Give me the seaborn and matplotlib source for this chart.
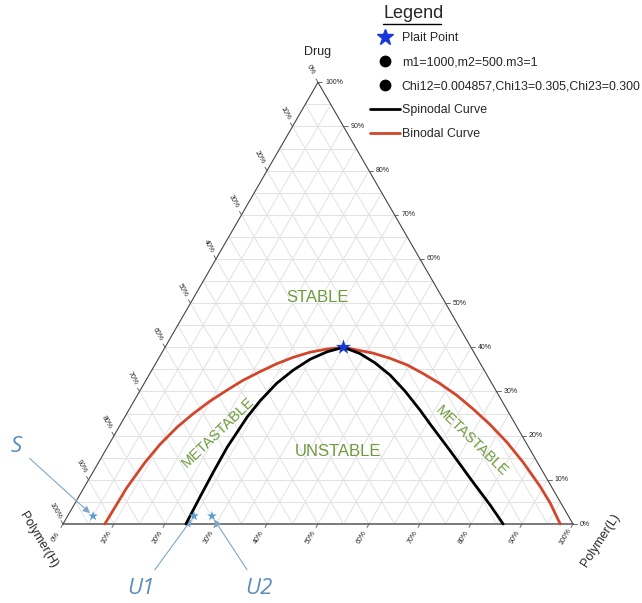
import numpy as np
import pandas as pd
import matplotlib
matplotlib.use("Agg")
import matplotlib.pyplot as plt
from matplotlib.lines import Line2D
import seaborn as sns

sns.set_theme(style="white")
plt.rcParams["font.family"] = ["Liberation Sans", "DejaVu Sans"]

# Compositions in percent: Polymer(L) and Drug; Polymer(H) = 100 - L - D
binodal_L = [8.2, 8.4, 9.1, 10.0, 11.4, 13.0, 14.9, 17.0, 19.0, 21.4, 23.8, 26.2, 29.0, 31.9, 35.0,
             41.4, 45.4, 49.5, 53.5, 58.0, 62.7, 67.3, 72.5, 77.8, 83.2, 89.2, 93.1, 97.5]
binodal_D = [0.0, 8.2, 13.9, 18.0, 21.9, 24.9, 27.8, 30.3, 32.5, 34.5, 36.3, 37.7, 38.9, 39.6, 40.0,
             38.7, 37.5, 36.0, 34.1, 31.8, 29.1, 26.1, 22.5, 18.5, 14.0, 8.6, 4.8, 0.0]

spinodal_L = [24.1, 23.8, 23.6, 23.5, 24.0, 24.7, 26.0, 27.7, 29.8, 32.3, 35.0,
              38.9, 42.9, 47.3, 52.0, 57.1, 60.7, 67.6, 74.6, 81.6, 86.3]
spinodal_D = [0.0, 6.2, 11.7, 17.4, 24.2, 27.9, 31.9, 34.8, 37.3, 39.0, 40.0,
              38.6, 36.5, 33.7, 30.1, 25.8, 22.6, 16.6, 10.4, 4.3, 0.0]

plait_L, plait_D = [35.0], [40.0]

sample_names = ["S", "U1", "U2"]
sample_L = [5.0, 24.8, 28.3]
sample_D = [1.8, 1.8, 1.8]

ticks = list(range(0, 101, 10))
tick_labels = [f"{t}%" for t in ticks]

legend_labels = ["Plait Point", "m1=1000,m2=500.m3=1",
                 "Chi12=0.004857,Chi13=0.305,Chi23=0.300",
                 "Spinodal Curve", "Binodal Curve"]

SQ = np.sqrt(3) / 2


def to_xy(L, D):
    L = np.asarray(L, float) / 100.0
    D = np.asarray(D, float) / 100.0
    return L + D / 2.0, D * SQ


# layout helper: figure pixel -> data units (base of triangle = 510 px)
def px(x, y):
    return (x - 63) / 510.0, (524 - y) / 510.0


W, H = 642, 603
fig = plt.figure(figsize=(W / 100, H / 100), dpi=100)
ax = fig.add_axes([0, 0, 1, 1])
ax.set_xlim(-63 / 510, (W - 63) / 510)
ax.set_ylim((524 - H) / 510, 524 / 510)
ax.axis("off")

# 5 % grid
grid_kw = dict(color="#e2e2e2", lw=0.7, zorder=1)
for k in range(5, 100, 5):
    x, y = to_xy([0, 100 - k], [k, k])          # constant Drug
    ax.plot(x, y, **grid_kw)
    x, y = to_xy([k, k], [0, 100 - k])          # constant Polymer(L)
    ax.plot(x, y, **grid_kw)
    x, y = to_xy([100 - k, 0], [0, 100 - k])    # constant Polymer(H)
    ax.plot(x, y, **grid_kw)

# triangle frame
x, y = to_xy([0, 100], [0, 0])
ax.plot(x, y, color="#7a7a7a", lw=1.4, zorder=2)
x, y = to_xy([0, 0], [0, 100])
ax.plot(x, y, color="#444444", lw=0.8, zorder=2)
x, y = to_xy([100, 0], [0, 100])
ax.plot(x, y, color="#444444", lw=0.8, zorder=2)

tick_fs = 5
tl = 4 / 510
off = 15 / 510
for t, lab in zip(ticks, tick_labels):
    # bottom axis: Polymer(L)
    bx, by = to_xy(t, 0)
    d = np.array([-0.5, -SQ])
    ax.plot([bx, bx + d[0] * tl], [by, by + d[1] * tl], color="#555", lw=0.6)
    ax.text(bx + d[0] * off, by + d[1] * off, lab, fontsize=tick_fs, rotation=60,
            ha="center", va="center")
    # right axis: Drug
    rx, ry = to_xy(100 - t, t)
    ax.plot([rx, rx + tl], [ry, ry], color="#555", lw=0.6)
    ax.text(rx + 7 / 510, ry, lab, fontsize=tick_fs, ha="left", va="center")
    # left axis: Polymer(H), 0 % at the apex
    lx, ly = to_xy(0, 100 - t)
    d = np.array([-0.5, SQ])
    ax.plot([lx, lx + d[0] * tl], [ly, ly + d[1] * tl], color="#555", lw=0.6)
    ax.text(lx + d[0] * off, ly + d[1] * off, lab, fontsize=tick_fs, rotation=-60,
            ha="center", va="center")

# corner labels
ax.text(*px(318, 52), "Drug", fontsize=9, ha="center", va="center")
ax.text(*px(38, 540), "Polymer(H)", fontsize=9, rotation=-59, ha="center", va="center")
ax.text(*px(601, 540), "Polymer(L)", fontsize=9, rotation=57, ha="center", va="center")

# curves
bx, by = to_xy(binodal_L, binodal_D)
sp_x, sp_y = to_xy(spinodal_L, spinodal_D)
sns.lineplot(x=bx, y=by, sort=False, ax=ax, color="#d2462b", lw=2.0, zorder=4)
sns.lineplot(x=sp_x, y=sp_y, sort=False, ax=ax, color="black", lw=2.0, zorder=4)

pl_x, pl_y = to_xy(plait_L, plait_D)
sns.scatterplot(x=pl_x, y=pl_y, ax=ax, marker="*", s=130, color="#1638d8",
                edgecolor="none", zorder=6)

sx, sy = to_xy(sample_L, sample_D)
sns.scatterplot(x=sx, y=sy, ax=ax, marker="*", s=55, color="#5e9bd1",
                edgecolor="none", zorder=6)

# region labels
green = "#6f9b3f"
ax.text(*px(318, 298), "STABLE", fontsize=12, color=green, ha="center", va="center")
ax.text(*px(338, 451), "UNSTABLE", fontsize=12, color=green, ha="center", va="center")
ax.text(*px(218, 432), "METASTABLE", fontsize=10.5, color=green, rotation=44,
        ha="center", va="center")
ax.text(*px(472, 441), "METASTABLE", fontsize=10.5, color=green, rotation=-44,
        ha="center", va="center")

# sample annotations
ann_color = "#5b8db8"
offsets = {"S": (-55, 50), "U1": (-38, -52), "U2": (34, -52)}
for name, x0, y0 in zip(sample_names, sx, sy):
    ax.annotate(name, xy=(x0, y0), xytext=offsets[name], textcoords="offset points",
                fontsize=16, style="italic", color=ann_color, ha="center", va="center",
                family=["Open Sans", "DejaVu Sans"],
                arrowprops=dict(arrowstyle="-|>", color="#7ea8cb", lw=0.8,
                                mutation_scale=10, shrinkA=4, shrinkB=3))

# legend
handles = [
    Line2D([], [], ls="none", marker="*", markersize=12, color="#1638d8"),
    Line2D([], [], ls="none", marker="o", markersize=7.5, color="black"),
    Line2D([], [], ls="none", marker="o", markersize=7.5, color="black"),
    Line2D([], [], color="black", lw=2.0),
    Line2D([], [], color="#d2462b", lw=2.0),
]
leg = ax.legend(handles, legend_labels, loc="upper left",
                bbox_to_anchor=(370 / W, 1 - 32 / H), bbox_transform=fig.transFigure,
                frameon=False, fontsize=8.9, handlelength=2.45, handletextpad=0.12,
                labelspacing=0.98, borderpad=0, borderaxespad=0)
fig.text(384 / W, 1 - 13 / H, "Legend", fontsize=13, ha="left", va="center")
fig.add_artist(Line2D([383 / W, 441 / W], [1 - 24 / H, 1 - 24 / H], color="black",
                      lw=1.0, transform=fig.transFigure))

fig.savefig("out.png", dpi=100)
